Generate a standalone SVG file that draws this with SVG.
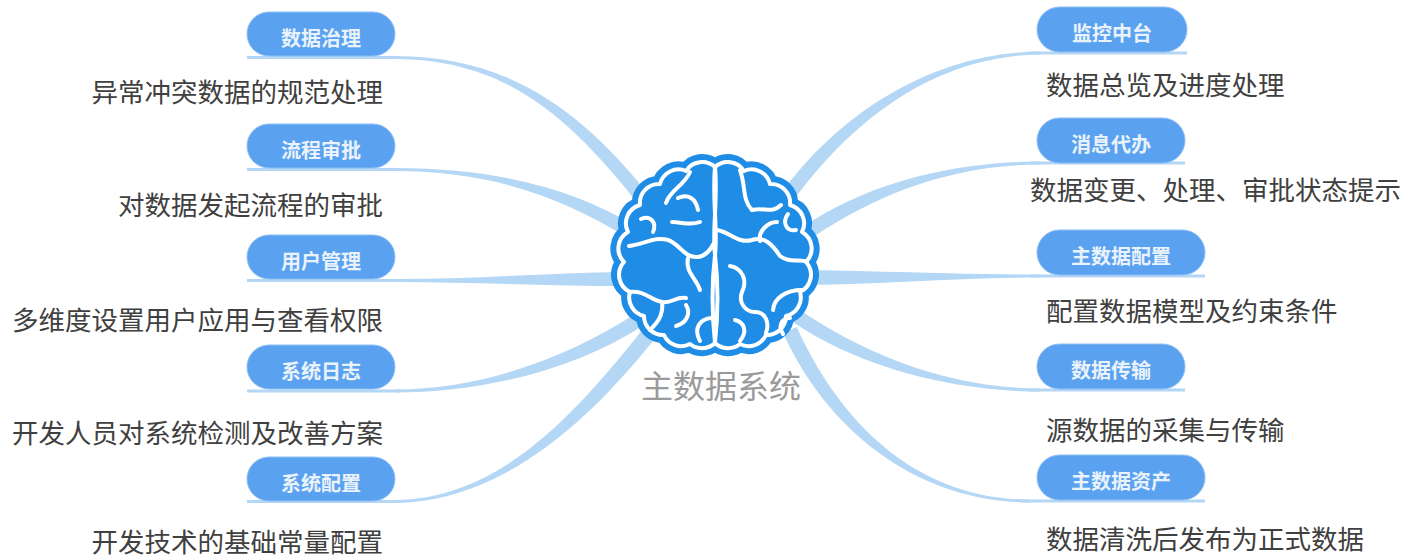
<svg xmlns="http://www.w3.org/2000/svg" xmlns:xlink="http://www.w3.org/1999/xlink" width="1406" height="558" viewBox="0 0 1406 558">
  <style>
    .conn{fill:#b4d7f5}
    .uline{fill:none;stroke:#b4d7f5;stroke-width:3}
    .pill{fill:#5aa2f0;stroke:#8dbff3;stroke-width:1}
    .ptxt{font-family:"Noto Sans CJK SC","Noto Sans",sans-serif;font-size:20px;font-weight:700;fill:#eaf2fc;text-anchor:middle}
    .desc{font-family:"Noto Sans CJK SC","Noto Sans",sans-serif;font-size:26.5px;fill:#404040}
    .end{text-anchor:end}
    .title{font-family:"Noto Sans CJK SC","Noto Sans",sans-serif;font-size:32px;fill:#9a9a9a;text-anchor:middle}
    .rim{fill:#1f8de6;stroke:#1f8de6;stroke-width:16;stroke-linejoin:round}
    .edge{fill:none;stroke:#ffffff;stroke-width:4;stroke-linejoin:round}
    .sulcus{fill:none;stroke:#ffffff;stroke-width:4;stroke-linecap:round;stroke-linejoin:round}
  </style>
  <defs>
    <!-- left hemisphere outline, traced clockwise with outward bumps -->
    <path id="hemi" d="M715,343 A19,19 0 0 1 690,344 A19,19 0 0 1 664,335 A19,19 0 0 1 644,316 A19,19 0 0 1 630,292 A19,19 0 0 1 624,262 A19,19 0 0 1 628,232 A19,19 0 0 1 640,205 A19,19 0 0 1 660,184 A19,19 0 0 1 686,171 A19,19 0 0 1 715,167 C712,200 718,230 715,255 S712,315 715,343 Z"/>
  </defs>
  <rect width="1406" height="558" fill="#ffffff"/>

  <!-- tapered connectors from the centre to each topic -->
  <g id="connectors">
    <line class="uline" x1="247" y1="57.5" x2="400" y2="57.5"/>
    <path class="conn" d="M395,56 C500,56.5 575.5,100.7 653.5,200.7 L642.5,209.3 C564.5,109.3 500,59.5 395,59 Z"/>
    <line class="uline" x1="247" y1="169.5" x2="400" y2="169.5"/>
    <path class="conn" d="M395,168 C500,168.5 573.6,189 635.6,226 L628.4,238 C566.4,201 500,171.5 395,171 Z"/>
    <line class="uline" x1="247" y1="280.5" x2="400" y2="280.5"/>
    <path class="conn" d="M395,279 C470,279 550,273 625,272 L625,286 C550,286 470,282 395,282 Z"/>
    <line class="uline" x1="247" y1="391" x2="400" y2="391"/>
    <path class="conn" d="M395,389.5 C480,389.5 566.2,359.1 638.2,312.1 L645.8,323.9 C573.8,370.9 480,392.5 395,392.5 Z"/>
    <line class="uline" x1="247" y1="501.5" x2="400" y2="501.5"/>
    <path class="conn" d="M395,500 C500,498.5 574.1,415.3 642.1,330.3 L653.9,339.7 C585.9,424.7 500,501.5 395,503 Z"/>

    <line class="uline" x1="1030" y1="53" x2="1187" y2="53"/>
    <path class="conn" d="M1040,51.5 C940,52.5 844.3,105.9 779.3,195.9 L790.7,204.1 C855.7,114.1 940,55.5 1040,54.5 Z"/>
    <line class="uline" x1="1030" y1="163" x2="1185" y2="163"/>
    <path class="conn" d="M1040,161.5 C950,161.5 866.1,184.2 804.1,226.2 L811.9,237.8 C873.9,195.8 950,164.5 1040,164.5 Z"/>
    <line class="uline" x1="1030" y1="276" x2="1205" y2="276"/>
    <path class="conn" d="M1040,274.5 C960,274.5 880,271 808,270 L808,285 C880,284 960,277.5 1040,277.5 Z"/>
    <line class="uline" x1="1030" y1="390" x2="1185" y2="390"/>
    <path class="conn" d="M1040,388.5 C950,388.5 864,354.2 799,309.2 L791,320.8 C856,365.8 950,391.5 1040,391.5 Z"/>
    <line class="uline" x1="1020" y1="501" x2="1205" y2="501"/>
    <path class="conn" d="M1030,499.5 C920,499.5 841.8,426.9 796.8,326.9 L783.2,333.1 C828.2,433.1 920,502.5 1030,502.5 Z"/>
  </g>

  <!-- central brain icon -->
  <g id="brain">
    <use xlink:href="#hemi" class="rim"/>
    <use xlink:href="#hemi" class="rim" transform="matrix(-1,0,0,1,1430,0)"/>
    <use xlink:href="#hemi" class="edge"/>
    <use xlink:href="#hemi" class="edge" transform="matrix(-1,0,0,1,1430,0)"/>
    <!-- left hemisphere folds -->
    <path class="sulcus" d="M690,172 C684,186 670,190 666,203"/>
    <path class="sulcus" d="M678,198 C688,193 696,199 698,210"/>
    <path class="sulcus" d="M641,219 C651,215 657,223 653,232"/>
    <path class="sulcus" d="M629,246 C645,244 655,236 668,240 C680,244 684,258 698,257 C706,256 711,249 714,243"/>
    <path class="sulcus" d="M672,222 C682,222 690,226 700,222"/>
    <path class="sulcus" d="M688,258 C685,272 696,278 700,290"/>
    <path class="sulcus" d="M629,292 C645,290 650,300 662,302 C672,304 676,296 686,298"/>
    <path class="sulcus" d="M662,302 C664,316 656,324 650,330"/>
    <path class="sulcus" d="M700,341 C693,328 700,318 713,318"/>
    <path class="sulcus" d="M676,326 C687,323 691,313 686,305"/>
    <!-- right hemisphere folds -->
    <path class="sulcus" d="M740,170 C746,186 742,200 752,210"/>
    <path class="sulcus" d="M752,210 C765,207 772,214 781,205"/>
    <path class="sulcus" d="M796,230 C786,232 782,222 788,214"/>
    <path class="sulcus" d="M717,230 C730,232 738,244 752,240 C764,236 772,244 780,256 C790,264 800,258 807,262"/>
    <path class="sulcus" d="M760,241 C758,231 768,222 777,222"/>
    <path class="sulcus" d="M730,266 C742,268 748,280 742,292 C738,302 745,312 755,312"/>
    <path class="sulcus" d="M755,312 C765,312 770,322 766,333"/>
    <path class="sulcus" d="M802,290 C786,290 774,298 773,310"/>
    <path class="sulcus" d="M790,318 C781,318 778,327 783,334"/>
    <path class="sulcus" d="M740,341 C748,331 744,322 735,320"/>
  </g>
  <text class="title" x="721" y="398">主数据系统</text>

  <!-- left topics -->
  <g id="node-governance">
    <rect class="pill" x="247" y="12" width="148" height="44" rx="22"/>
    <text class="ptxt" x="321" y="45.5">数据治理</text>
    <text class="desc end" x="383" y="102">异常冲突数据的规范处理</text>
  </g>
  <g id="node-approval">
    <rect class="pill" x="247" y="124" width="148" height="44" rx="22"/>
    <text class="ptxt" x="321" y="157.5">流程审批</text>
    <text class="desc end" x="383" y="215">对数据发起流程的审批</text>
  </g>
  <g id="node-users">
    <rect class="pill" x="247" y="235" width="148" height="44" rx="22"/>
    <text class="ptxt" x="321" y="268.5">用户管理</text>
    <text class="desc end" x="383" y="330">多维度设置用户应用与查看权限</text>
  </g>
  <g id="node-logs">
    <rect class="pill" x="247" y="345" width="148" height="44" rx="22"/>
    <text class="ptxt" x="321" y="378.5">系统日志</text>
    <text class="desc end" x="383" y="443">开发人员对系统检测及改善方案</text>
  </g>
  <g id="node-sysconfig">
    <rect class="pill" x="247" y="457" width="148" height="44" rx="22"/>
    <text class="ptxt" x="321" y="490.5">系统配置</text>
    <text class="desc end" x="383" y="552">开发技术的基础常量配置</text>
  </g>

  <!-- right topics -->
  <g id="node-monitor">
    <rect class="pill" x="1037" y="7" width="150" height="45" rx="22.5"/>
    <text class="ptxt" x="1112" y="41">监控中台</text>
    <text class="desc" x="1046" y="95">数据总览及进度处理</text>
  </g>
  <g id="node-messages">
    <rect class="pill" x="1037" y="118" width="148" height="45" rx="22.5"/>
    <text class="ptxt" x="1111" y="152">消息代办</text>
    <text class="desc" x="1030" y="200">数据变更、处理、审批状态提示</text>
  </g>
  <g id="node-mdconfig">
    <rect class="pill" x="1037" y="230" width="168" height="45" rx="22.5"/>
    <text class="ptxt" x="1121" y="264">主数据配置</text>
    <text class="desc" x="1046" y="321">配置数据模型及约束条件</text>
  </g>
  <g id="node-transfer">
    <rect class="pill" x="1037" y="344" width="148" height="45" rx="22.5"/>
    <text class="ptxt" x="1111" y="378">数据传输</text>
    <text class="desc" x="1046" y="440">源数据的采集与传输</text>
  </g>
  <g id="node-assets">
    <rect class="pill" x="1037" y="455" width="168" height="45" rx="22.5"/>
    <text class="ptxt" x="1121" y="489">主数据资产</text>
    <text class="desc" x="1046" y="549">数据清洗后发布为正式数据</text>
  </g>
</svg>
